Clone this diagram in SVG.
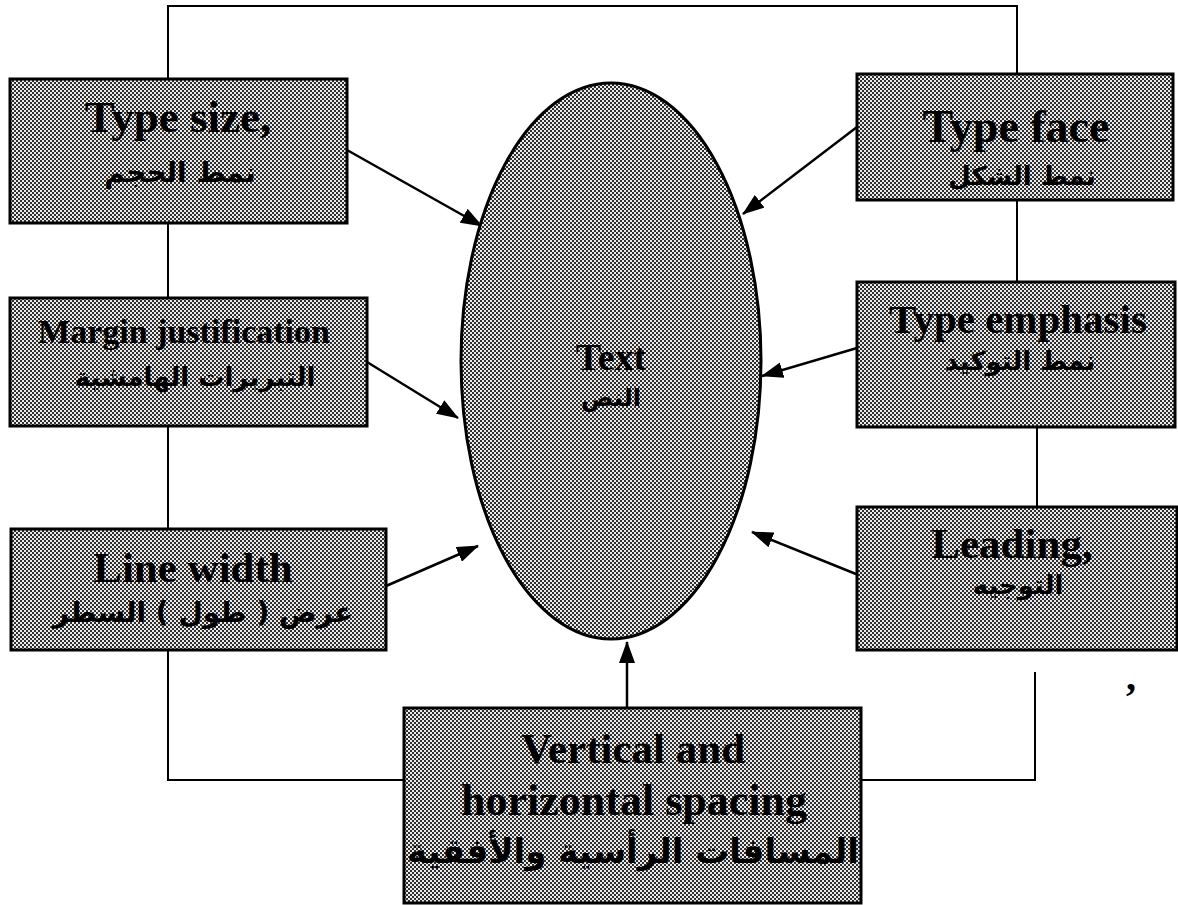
<svg xmlns="http://www.w3.org/2000/svg" width="1178" height="905" viewBox="0 0 1178 905">
<style>
.box{fill:url(#dots);stroke:#000;stroke-width:3}
.en{font-family:"Liberation Serif","Times New Roman",serif;font-weight:bold;fill:#000;text-anchor:middle}
.ar{font-family:"DejaVu Sans","Noto Sans",sans-serif;font-weight:bold;fill:#000;text-anchor:middle}
.ln{fill:none;stroke:#000;stroke-width:2}
.arr{fill:none;stroke:#000;stroke-width:2.5;marker-end:url(#ah)}
</style>
<defs>
<pattern id="dots" width="4" height="4" patternUnits="userSpaceOnUse">
<rect width="4" height="4" fill="#ececec"/>
<rect x="0" y="0" width="2" height="2" fill="#2e2e2e"/>
<rect x="2" y="2" width="2" height="2" fill="#2e2e2e"/>
</pattern>
<marker id="ah" markerWidth="22" markerHeight="16" refX="21" refY="8" orient="auto" markerUnits="userSpaceOnUse" viewBox="0 0 22 16">
<path d="M0,0 L22,8 L0,16 Z" fill="#000"/>
</marker>
</defs>
<rect width="1178" height="905" fill="#fff"/>
<g id="connectors">
<polyline class="ln" points="168,79 168,6 1017,6 1017,74"/>
<line class="ln" x1="168" y1="223" x2="168" y2="298"/>
<line class="ln" x1="168" y1="426" x2="168" y2="529"/>
<polyline class="ln" points="168,650 168,780 404,780"/>
<line class="ln" x1="1017" y1="200" x2="1017" y2="282"/>
<line class="ln" x1="1037" y1="427" x2="1037" y2="507"/>
<polyline class="ln" points="1035,672 1035,780 861,780"/>
<line class="arr" x1="347" y1="150" x2="482" y2="226"/>
<line class="arr" x1="857" y1="127" x2="743" y2="214"/>
<line class="arr" x1="367" y1="362" x2="458" y2="418"/>
<line class="arr" x1="857" y1="348" x2="762" y2="376"/>
<line class="arr" x1="386" y1="586" x2="478" y2="546"/>
<line class="arr" x1="856" y1="574" x2="752" y2="532"/>
<line class="arr" x1="627" y1="708" x2="627" y2="642"/>
</g>
<g id="text-node">
<ellipse cx="611" cy="361" rx="150" ry="278" class="box"/>
<text class="en" x="611" y="370" font-size="38">Text</text>
<text class="ar" x="611" y="406" font-size="24">النص</text>
</g>
<g id="type-size">
<rect x="10" y="79" width="337" height="144" class="box"/>
<text class="en" x="178" y="132" font-size="45">Type size,</text>
<text class="ar" x="180" y="182" font-size="28">نمط الحجم</text>
</g>
<g id="type-face">
<rect x="857" y="74" width="316" height="126" class="box"/>
<text class="en" x="1016" y="142" font-size="46">Type face</text>
<text class="ar" x="1022" y="185" font-size="26">نمط الشكل</text>
</g>
<g id="margin-justification">
<rect x="10" y="298" width="357" height="128" class="box"/>
<text class="en" x="184" y="343" font-size="34">Margin justification</text>
<text class="ar" x="195" y="386" font-size="26">التبريرات الهامشية</text>
</g>
<g id="type-emphasis">
<rect x="857" y="282" width="318" height="145" class="box"/>
<text class="en" x="1018" y="333" font-size="41">Type emphasis</text>
<text class="ar" x="1020" y="370" font-size="26">نمط التوكيد</text>
</g>
<g id="line-width">
<rect x="11" y="529" width="375" height="121" class="box"/>
<text class="en" x="193" y="582" font-size="43">Line width</text>
<text class="ar" x="203" y="622" font-size="28">عرض ( طول ) السطر</text>
</g>
<g id="leading">
<rect x="857" y="507" width="320" height="143" class="box"/>
<text class="en" x="1012" y="558" font-size="43">Leading,</text>
<text class="ar" x="1018" y="594" font-size="26">التوجيه</text>
</g>
<g id="spacing">
<rect x="404" y="708" width="457" height="195" class="box"/>
<text class="en" x="633" y="763" font-size="43">Vertical and</text>
<text class="en" x="634" y="815" font-size="44">horizontal spacing</text>
<text class="ar" x="633" y="863" font-size="34">المسافات الرأسية والأفقية</text>
</g>
<text class="en" x="1131" y="690" font-size="40">,</text>
</svg>
